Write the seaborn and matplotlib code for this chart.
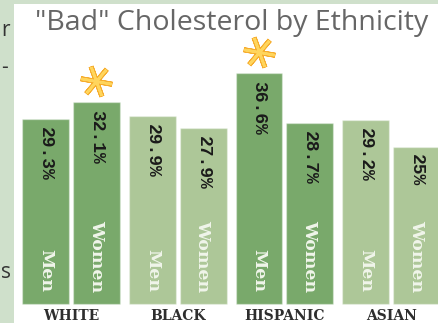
import matplotlib
matplotlib.use("Agg")
import matplotlib.pyplot as plt
import seaborn as sns
import pandas as pd

# ---- data ----
ethnicities = ["WHITE", "BLACK", "HISPANIC", "ASIAN"]
sexes = ["Men", "Women"]
men_values = [29.3, 29.9, 36.6, 29.2]
women_values = [32.1, 27.9, 28.7, 25.0]
men_labels = ["29.3%", "29.9%", "36.6%", "29.2%"]
women_labels = ["32.1%", "27.9%", "28.7%", "25%"]
starred = [("WHITE", "Women"), ("HISPANIC", "Men")]
title = '"Bad" Cholesterol by Ethnicity'

dark_green = "#79a96b"
light_green = "#adc798"
group_colors = [dark_green, light_green, dark_green, light_green]

rows = []
for i, eth in enumerate(ethnicities):
    rows.append({"eth": eth, "sex": "Men", "val": men_values[i], "lab": men_labels[i]})
    rows.append({"eth": eth, "sex": "Women", "val": women_values[i], "lab": women_labels[i]})
df = pd.DataFrame(rows)

sns.set_theme(style="white")
W, H = 438, 323
fig = plt.figure(figsize=(W / 100, H / 100), dpi=100)
fig.patch.set_facecolor("#cfe0cb")

ax = fig.add_axes([14 / W, 0, (W - 14) / W, (H - 4) / H])
ax.set_facecolor("white")

sns.barplot(data=df, x="eth", y="val", hue="sex", order=ethnicities,
            hue_order=sexes, width=0.953, gap=0.077, dodge=True,
            legend=False, ax=ax, errorbar=None, saturation=1,
            palette=["#79a96b", "#79a96b"])

px = 6.3  # pixels per unit
zero_px = 304
ax.set_ylim(-(H - zero_px) / px, (zero_px - 4) / px)
gc = 71.0
gs = 106.7
ax.set_xlim(-(gc - 14) / gs, (W - gc) / gs)

# recolor bars per ethnicity and annotate
for hi, sex in enumerate(sexes):
    cont = ax.containers[hi]
    for ei, bar in enumerate(cont):
        bar.set_facecolor(group_colors[ei])
        bar.set_edgecolor((1, 1, 1, 0.35))
        bar.set_linewidth(1.0)
        xc = bar.get_x() + bar.get_width() / 2
        top = bar.get_height()
        lab = men_labels[ei] if sex == "Men" else women_labels[ei]
        ax.annotate(lab, (xc, top), xytext=(0, -8), textcoords="offset pixels",
                    rotation=-90, ha="center", va="top", fontsize=13,
                    family="Liberation Mono", fontweight="bold", color="#1a1a1a")
        ax.annotate(sex, (xc, 0), xytext=(0, 12), textcoords="offset pixels",
                    rotation=-90, ha="center", va="bottom", fontsize=12.5,
                    family="DejaVu Serif", fontweight="bold", color="#f0f5ea")
        if (ethnicities[ei], sex) in starred:
            sy = top + 21 / px
            ax.plot([xc], [sy], marker=(6, 2, 20), markersize=23,
                    markeredgewidth=3.6, color="#f6ad2e", linestyle="none")
            ax.plot([xc], [sy], marker=(6, 2, 20), markersize=22,
                    markeredgewidth=1.8, color="#ffd55c", linestyle="none")

for ei, eth in enumerate(ethnicities):
    ax.text(ei, -(316 - zero_px) / px, eth, ha="center", va="center",
            fontsize=10, family="DejaVu Serif", fontweight="bold", color="#2e2e2e")

ax.set_xlabel("")
ax.set_ylabel("")
ax.set_xticks([])
ax.set_yticks([])
for s in ax.spines.values():
    s.set_visible(False)

fig.text(232 / W, 1 - 23 / H, title, ha="center", va="center",
         fontsize=20.5, family="Open Sans", color="#666666")

# text fragments from the neighbouring panel
fig.text(1 / W, 1 - 31 / H, "r", ha="left", va="center", fontsize=15,
         family="Open Sans", color="#333333")
fig.text(1 / W, 1 - 67 / H, "-", ha="left", va="center", fontsize=15,
         family="Open Sans", color="#333333")
fig.text(1 / W, 1 - 273 / H, "s", ha="left", va="center", fontsize=15,
         family="Open Sans", color="#333333")

fig.savefig("out.png", dpi=100, facecolor=fig.get_facecolor())
